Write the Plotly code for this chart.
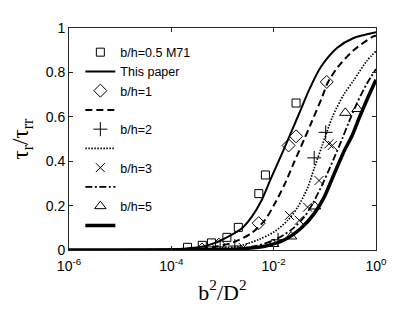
import plotly.graph_objects as go

# ---- data ----
# model curves ("This paper"), x = b^2/D^2
c05_x = [1e-6, 1e-5, 3.2e-5, 1e-4, 1.66e-4, 3.47e-4, 7.24e-4, 1.32e-3, 2.4e-3, 3.72e-3, 5.75e-3,
         8.9e-3, 1.41e-2, 2.19e-2, 3.39e-2, 4.9e-2, 8.3e-2, 0.175, 0.366, 1.0]
c05_y = [0.0, 0.0005, 0.001, 0.003, 0.006, 0.012, 0.032, 0.061, 0.098, 0.149, 0.222,
         0.324, 0.427, 0.53, 0.632, 0.72, 0.823, 0.911, 0.955, 0.981]

c1_x = [1e-6, 3.2e-5, 1e-4, 3.2e-4, 7.2e-4, 1.52e-3, 3.7e-3, 6.7e-3, 1.04e-2, 1.63e-2, 2.54e-2,
        3.98e-2, 5.6e-2, 8.9e-2, 0.112, 0.174, 0.366, 0.89, 1.0]
c1_y = [0.0, 0.0005, 0.002, 0.006, 0.015, 0.032, 0.076, 0.134, 0.207, 0.295, 0.398,
        0.50, 0.58, 0.69, 0.75, 0.82, 0.90, 0.962, 0.965]

c2_x = [1e-6, 1e-4, 3.2e-4, 1e-3, 2.06e-3, 5.0e-3, 1.04e-2, 1.89e-2, 2.95e-2, 4.6e-2, 6.2e-2,
        8.9e-2, 0.141, 0.234, 0.366, 0.662, 1.0]
c2_y = [0.0, 0.001, 0.004, 0.008, 0.017, 0.046, 0.083, 0.134, 0.193, 0.28, 0.368,
        0.471, 0.60, 0.70, 0.764, 0.852, 0.896]

c3_x = [1e-6, 1e-4, 1e-3, 2.0e-3, 4.3e-3, 1.04e-2, 2.19e-2, 3.96e-2, 6.2e-2, 9.6e-2, 0.150,
        0.218, 0.292, 0.425, 0.662, 1.0]
c3_y = [0.0, 0.0005, 0.003, 0.007, 0.017, 0.046, 0.09, 0.149, 0.222, 0.31, 0.412,
        0.50, 0.574, 0.662, 0.749, 0.815]

c5_x = [1e-6, 1e-4, 1e-3, 2.5e-3, 6.7e-3, 1.63e-2, 3.42e-2, 6.2e-2, 9.6e-2, 0.150, 0.234,
        0.340, 0.456, 0.662, 1.0]
c5_y = [0.0, 0.0005, 0.002, 0.006, 0.017, 0.046, 0.098, 0.164, 0.236, 0.339, 0.442,
        0.515, 0.588, 0.676, 0.767]

# measured points
sq_x = [2.07e-4, 4.03e-4, 6.08e-4, 1.22e-3, 2.04e-3, 5.13e-3, 6.9e-3, 2.74e-2]
sq_y = [0.012, 0.021, 0.032, 0.057, 0.102, 0.254, 0.338, 0.662]

di_x = [4.0e-4, 8.5e-4, 5.1e-3, 1.96e-2, 2.74e-2, 0.109]
di_y = [0.002, 0.024, 0.121, 0.471, 0.512, 0.757]

pl_x = [9.0e-4, 1.74e-3, 1.22e-2, 6.2e-2, 0.104]
pl_y = [0.014, 0.018, 0.046, 0.415, 0.53]

cr_x = [2.56e-3, 2.03e-2, 3.17e-2, 4.6e-2, 7.7e-2, 0.120, 0.140]
cr_y = [0.011, 0.156, 0.134, 0.193, 0.313, 0.478, 0.471]

tr_x = [9.7e-3, 2.19e-2, 6.4e-2, 0.252, 0.436]
tr_y = [0.027, 0.061, 0.196, 0.618, 0.635]

x_tickvals = [1e-6, 1e-4, 1e-2, 1e0]
x_ticktext = ["10<sup>-6</sup>", "10<sup>-4</sup>", "10<sup>-2</sup>", "10<sup>0</sup>"]
y_tickvals = [0, 0.2, 0.4, 0.6, 0.8, 1]
y_ticktext = ["0", "0.2", "0.4", "0.6", "0.8", "1"]

K = "black"
fig = go.Figure()

def pts(x, y, sym, size, name):
    fig.add_trace(go.Scatter(x=x, y=y, mode="markers", name=name,
                             marker=dict(symbol=sym, size=size, color=K,
                                         line=dict(color=K, width=1))))

def crv(x, y, dash, width, name):
    fig.add_trace(go.Scatter(x=x, y=y, mode="lines", name=name,
                             line=dict(color=K, width=width, dash=dash, shape="spline", smoothing=0.8)))

pts(sq_x, sq_y, "square-open", 8, "b/h=0.5 M71")
crv(c05_x, c05_y, "solid", 2, "This paper")
pts(di_x, di_y, "diamond-open", 10, "b/h=1")
crv(c1_x, c1_y, "7px,4px", 2, " ")
pts(pl_x, pl_y, "cross-thin-open", 10, "b/h=2")
crv(c2_x, c2_y, "1.5px,1.5px", 1.7, "  ")
pts(cr_x, cr_y, "x-thin-open", 9, "b/h=3")
crv(c3_x, c3_y, "7px,2.5px,2px,2.5px", 1.8, "   ")
pts(tr_x, tr_y, "triangle-up-open", 10, "b/h=5")
crv(c5_x, c5_y, "solid", 3.5, "    ")

axis_common = dict(showline=True, linecolor="#262626", linewidth=1, mirror="ticks",
                   ticks="inside", ticklen=4, tickcolor="#262626", showgrid=False,
                   zeroline=False, tickfont=dict(family="Liberation Sans", size=14, color="black"))

fig.update_layout(
    width=407, height=304,
    margin=dict(l=57, r=39, t=14, b=62),
    plot_bgcolor="white", paper_bgcolor="white",
    xaxis=dict(type="log", range=[-6, 0], tickvals=x_tickvals, ticktext=x_ticktext,
               ticklabelstandoff=3,
               title=dict(text="b<sup>2</sup>/D<sup>2</sup>",
                          font=dict(family="Liberation Serif", size=22, color="black"), standoff=11),
               **axis_common),
    yaxis=dict(range=[0, 1], tickvals=y_tickvals, ticktext=y_ticktext,
               title=dict(text="τ<sub>r</sub>/τ<sub>rr</sub>",
                          font=dict(family="Liberation Serif", size=23, color="black"), standoff=10),
               **axis_common),
    legend=dict(x=0.037, y=0.957, xanchor="left", yanchor="top", bgcolor="rgba(0,0,0,0)",
                font=dict(family="Liberation Sans", size=12.5, color="black"),
                itemwidth=30, tracegroupgap=0),
    showlegend=True,
)

fig.write_html("out.html")
